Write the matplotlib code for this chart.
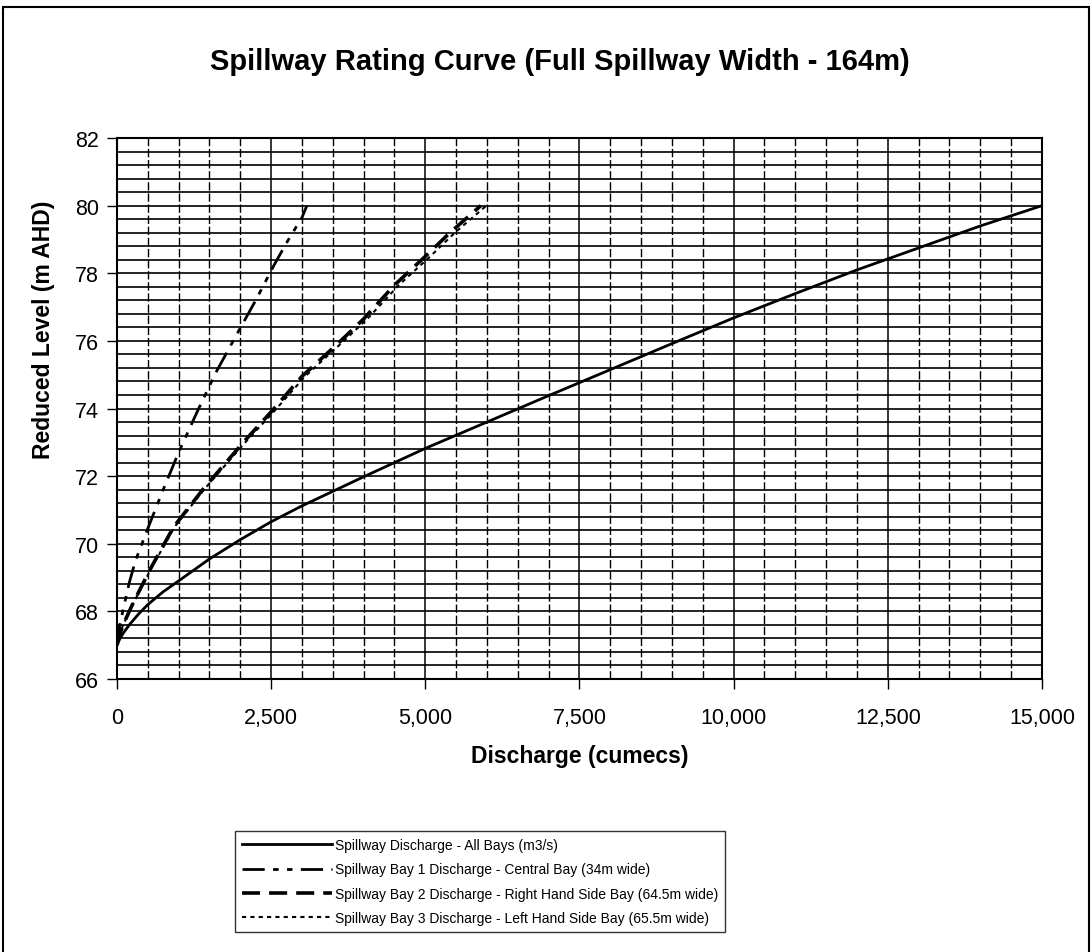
import matplotlib
matplotlib.use('Agg')
import matplotlib.pyplot as plt
from matplotlib.ticker import MultipleLocator, FuncFormatter
from matplotlib.patches import Rectangle

plt.rcParams['font.family'] = ['Liberation Sans', 'DejaVu Sans']

# values
q_all = [0, 50, 100, 200, 350, 500, 750, 1000, 1500, 2000, 2500, 3000, 3500, 4000, 5000, 6000, 7000, 8000,
         9000, 10000, 11000, 12000, 13000, 14000, 15000]
h_all = [67.0, 67.2, 67.35, 67.6, 67.92, 68.2, 68.58, 68.9, 69.55, 70.12, 70.65, 71.12, 71.55, 71.98, 72.82,
         73.6, 74.38, 75.15, 75.92, 76.68, 77.4, 78.1, 78.75, 79.4, 80.0]

q_bay1 = [0, 30, 100, 200, 300, 500, 750, 1000, 1300, 1600, 1900, 2250, 2550, 2750, 3000, 3080]
h_bay1 = [67.0, 67.45, 68.05, 68.85, 69.5, 70.45, 71.6, 72.7, 73.9, 75.05, 76.05, 77.2, 78.25, 78.9, 79.65, 80.0]

q_bay2 = [0, 40, 100, 250, 540, 920, 1400, 2050, 2500, 3000, 3600, 4000, 4500, 5000, 5400, 5900]
h_bay2 = [67.0, 67.3, 67.6, 68.2, 69.25, 70.5, 71.62, 73.0, 73.9, 74.95, 75.95, 76.65, 77.65, 78.5, 79.2, 80.0]

q_bay3 = [0, 40, 100, 255, 550, 935, 1420, 2080, 2540, 3050, 3650, 4060, 4570, 5080, 5480, 5990]
h_bay3 = [67.0, 67.3, 67.6, 68.2, 69.25, 70.5, 71.62, 73.0, 73.9, 74.95, 75.95, 76.65, 77.65, 78.5, 79.2, 80.0]

labels = ['Spillway Discharge - All Bays (m3/s)',
          'Spillway Bay 1 Discharge - Central Bay (34m wide)',
          'Spillway Bay 2 Discharge - Right Hand Side Bay (64.5m wide)',
          'Spillway Bay 3 Discharge - Left Hand Side Bay (65.5m wide)']

fig = plt.figure(figsize=(10.92, 9.53), dpi=100)
ax = fig.add_axes([0.1071, 0.2865, 0.8471, 0.5676])

ax.plot(q_all, h_all, color='black', lw=2, label=labels[0])
ax.plot(q_bay1, h_bay1, color='black', lw=2, ls=(0, (8, 3, 2, 3, 2, 3)), label=labels[1])
ax.plot(q_bay2, h_bay2, color='black', lw=2.6, ls=(0, (5, 2.5)), label=labels[2])
ax.plot(q_bay3, h_bay3, color='black', lw=1.5, ls=(0, (2, 2)), label=labels[3])

ax.set_xlim(0, 15000)
ax.set_ylim(66, 82)
ax.xaxis.set_major_locator(MultipleLocator(2500))
ax.xaxis.set_minor_locator(MultipleLocator(500))
ax.yaxis.set_major_locator(MultipleLocator(2))
ax.yaxis.set_minor_locator(MultipleLocator(0.4))
ax.xaxis.set_major_formatter(FuncFormatter(lambda v, p: f'{int(v):,}'))

# grid
ax.grid(which='major', axis='x', color='black', lw=1.1, ls='-')
ax.grid(which='minor', axis='x', color='black', lw=1.0, ls=(0, (6, 2)))
ax.grid(which='both', axis='y', color='black', lw=1.2, ls='-')
ax.set_axisbelow(True)

ax.tick_params(which='major', direction='out', length=7, width=1, labelsize=15.5)
ax.tick_params(axis='x', pad=13)
ax.tick_params(axis='y', pad=6)
ax.tick_params(which='minor', length=0)
for sp in ax.spines.values():
    sp.set_linewidth(1.5)

fig.text(560 / 1092, 1 - 62 / 953, 'Spillway Rating Curve (Full Spillway Width - 164m)', fontsize=21,
         fontweight='bold', ha='center', va='center')
ax.set_xlabel('Discharge (cumecs)', fontsize=16.5, fontweight='bold')
ax.xaxis.set_label_coords(0.5, -(757 - 680) / 541)
ax.set_ylabel('Reduced Level (m AHD)', fontsize=16.5, fontweight='bold')
ax.yaxis.set_label_coords(-(117 - 44) / 925, (680 - 330) / 541)
ax.xaxis.label.set_va('center')
ax.yaxis.label.set_va('center')

leg = fig.legend(loc='upper center', bbox_to_anchor=(480 / 1092, 1 - 832 / 953), fontsize=10,
                 frameon=True, fancybox=False, edgecolor='black', handlelength=6.5, borderpad=0.5,
                 labelspacing=0.75, handletextpad=0.2, borderaxespad=0)
leg.get_frame().set_linewidth(1.0)

# outer chart border
fig.patches.append(Rectangle((3 / 1092, -0.01), 1086 / 1092, 1 - 8 / 953 + 0.01, transform=fig.transFigure,
                             fill=False, edgecolor='black', lw=1.5))

fig.savefig('out.png', dpi=100)
